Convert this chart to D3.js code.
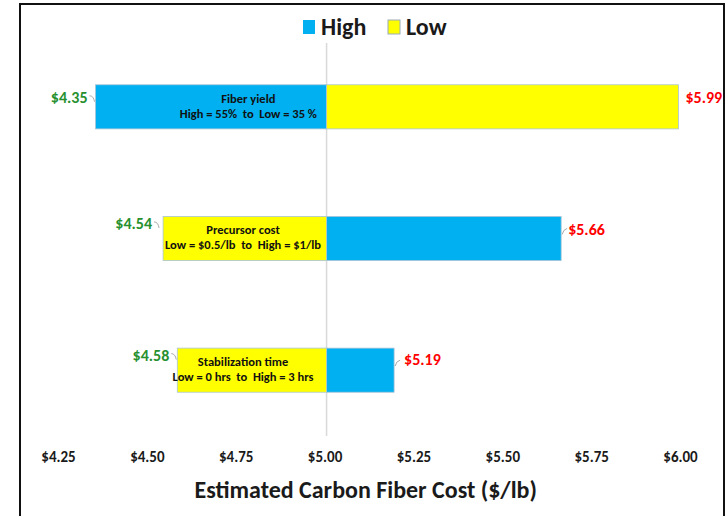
<!DOCTYPE html>
<html><head><meta charset="utf-8">
<script src="https://cdn.jsdelivr.net/npm/d3@7"></script>
<style>body{margin:0;background:#fff;} svg{display:block;} text{white-space:pre;}</style>
</head><body>
<script>
const factors = ["Fiber yield", "Precursor cost", "Stabilization time"];
const rangeText = ["High = 55%  to  Low = 35 %", "Low = $0.5/lb  to  High = $1/lb", "Low = 0 hrs  to  High = 3 hrs"];
const highValues = [4.35, 5.66, 5.19];
const lowValues = [5.99, 4.54, 4.58];
const baseValue = 5.00;
const tickValues = [4.25, 4.50, 4.75, 5.00, 5.25, 5.50, 5.75, 6.00];
const seriesNames = ["High", "Low"];
const axisTitle = "Estimated Carbon Fiber Cost ($/lb)";

const W = 726, H = 516;
const font = "Carlito, Calibri, 'Liberation Sans Narrow', 'Open Sans', sans-serif";
const colors = {High: "#00B0F0", Low: "#FFFF00"};

const svg = d3.select("body").append("svg").attr("width", W).attr("height", H)
  .style("font-family", font);

// frame
svg.append("rect").attr("x", 20).attr("y", 4).attr("width", 704).attr("height", 530)
  .attr("fill", "none").attr("stroke", "#111").attr("stroke-width", 2);

const x = d3.scaleLinear().domain([4.25, 6.00]).range([60, 682]);
const y = d3.scaleBand().domain(factors).range([41, 436]).paddingInner(0.665).paddingOuter(0.3325);

// center line
svg.append("line").attr("x1", x(baseValue)).attr("x2", x(baseValue))
  .attr("y1", 43).attr("y2", 436).attr("stroke", "#d9d9d9").attr("stroke-width", 1.5);

// bars
factors.forEach((f, i) => {
  const parts = [{s: "High", v: highValues[i]}, {s: "Low", v: lowValues[i]}];
  parts.forEach(p => {
    const x0 = Math.min(p.v, baseValue), x1 = Math.max(p.v, baseValue);
    svg.append("rect").attr("x", x(x0)).attr("y", y(f)).attr("width", x(x1) - x(x0))
      .attr("height", y.bandwidth()).attr("fill", colors[p.s])
      .attr("stroke", "#a9c4d6").attr("stroke-width", 0.8);
  });
  const minV = Math.min(highValues[i], lowValues[i]);
  const maxV = Math.max(highValues[i], lowValues[i]);
  const xl = x(minV), xr = x(maxV);
  const yt = y(f);
  const cx = i === 0 ? x(4.78) : x(4.765);
  // inner label
  const t = svg.append("text").attr("text-anchor", "middle").attr("fill", "#111")
    .attr("font-size", 12.5).attr("font-weight", "bold");
  t.append("tspan").attr("x", cx).attr("y", yt + 18).text(f);
  t.append("tspan").attr("x", cx).attr("y", yt + 33).text(rangeText[i]);
  // value labels
  const lOff = i === 0 ? 18 : 12.5;
  const lGap = i === 1 ? 11 : 8;
  const rOff = i === 2 ? 17 : 18.5;
  svg.append("text").attr("x", xl - lGap).attr("y", yt + lOff).attr("text-anchor", "end")
    .attr("fill", "#27902f").attr("font-size", 16).attr("font-weight", "bold")
    .text("$" + minV.toFixed(2));
  svg.append("path").attr("d", `M${xl - lGap + 2},${yt + lOff - 7} q4,0 5,${6}`)
    .attr("fill", "none").attr("stroke", "#aaa");
  svg.append("text").attr("x", xr + 7 + (i === 2 ? 3 : 0)).attr("y", yt + rOff).attr("text-anchor", "start")
    .attr("fill", "#ff0000").attr("font-size", 16).attr("font-weight", "bold")
    .text("$" + maxV.toFixed(2));
  if (i > 0) {
    svg.append("path").attr("d", `M${xr + 1},${yt + 18} q1,-5 5,-6`)
      .attr("fill", "none").attr("stroke", "#aaa");
  }
});

// axis
const axis = d3.axisBottom(x).tickValues(tickValues).tickSize(0).tickFormat(d => "$" + d.toFixed(2));
const ag = svg.append("g").attr("transform", "translate(-2,448)").call(axis);
ag.select(".domain").remove();
ag.selectAll("text").attr("font-family", font).attr("font-size", 15).attr("font-weight", "bold")
  .attr("fill", "#1a1a1a");

svg.append("text").attr("x", x(5.11)).attr("y", 498).attr("text-anchor", "middle")
  .attr("font-size", 24).attr("font-weight", "bold").attr("fill", "#1a1a1a").text(axisTitle);

// legend
const lg = svg.append("g");
const legPos = [{s: "High", x: 303}, {s: "Low", x: 388}];
legPos.forEach(l => {
  lg.append("rect").attr("x", l.x).attr("y", 20).attr("width", 12).attr("height", 14)
    .attr("fill", colors[l.s]).attr("stroke", l.s === "Low" ? "#9ab" : "none");
  lg.append("text").attr("x", l.x + 18).attr("y", 35).attr("font-size", 24).attr("font-weight", "bold")
    .attr("fill", "#1a1a1a").text(l.s);
});
</script>
</body></html>
